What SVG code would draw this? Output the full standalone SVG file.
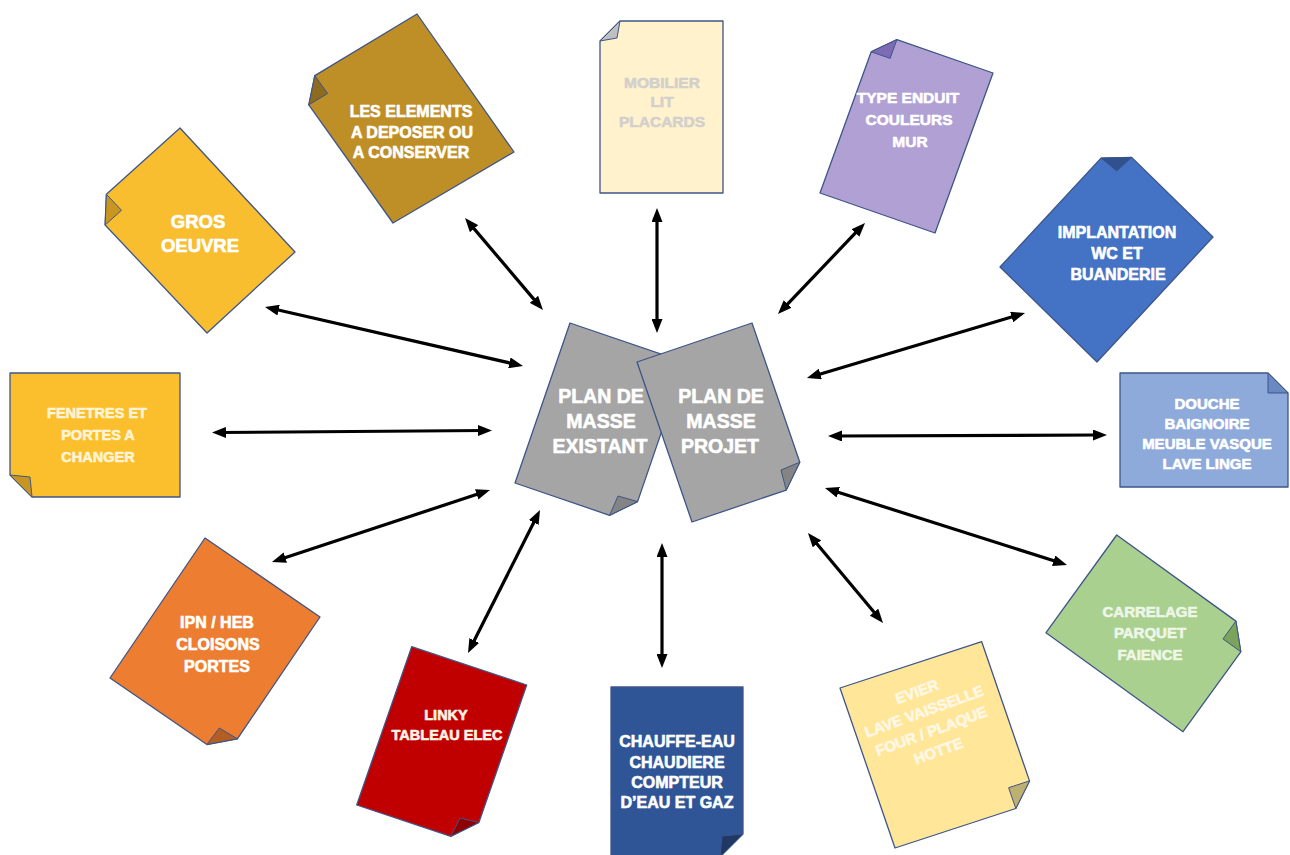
<svg xmlns="http://www.w3.org/2000/svg" width="1290" height="855" viewBox="0 0 1290 855">
<style>
.page{stroke:#3E5588;stroke-width:1.3;stroke-linejoin:round}
.fold{stroke:#3E5588;stroke-width:1;stroke-linejoin:round}
.t{font-family:"Liberation Sans",Arial,sans-serif;font-weight:700;text-anchor:middle;fill:#FFFFFF;stroke:#FFFFFF;stroke-width:0.6;stroke-linejoin:round}
.conn line{stroke:#000;stroke-width:3.2;marker-start:url(#ah);marker-end:url(#ah)}
</style>
<defs>
<marker id="ah" viewBox="0 0 14 11" refX="6" refY="5.5" markerWidth="14" markerHeight="11" markerUnits="userSpaceOnUse" orient="auto-start-reverse">
<path d="M0,0 L14,5.5 L0,11 Z" fill="#000"/>
</marker>
</defs>
<rect width="1290" height="855" fill="#FFFFFF"/>

<g id="connectors" class="conn">
<line x1="272.8" y1="308.8" x2="515.2" y2="364.2"/>
<line x1="470.2" y1="224.1" x2="537.8" y2="303.9"/>
<line x1="657" y1="216" x2="657" y2="325"/>
<line x1="859.5" y1="228.7" x2="783.5" y2="308.3"/>
<line x1="1017.4" y1="315.3" x2="814.6" y2="375.7"/>
<line x1="836" y1="436" x2="1099" y2="435"/>
<line x1="832.6" y1="490.4" x2="1059.4" y2="562.6"/>
<line x1="813.1" y1="539.2" x2="877.9" y2="616.8"/>
<line x1="662" y1="551" x2="662" y2="660"/>
<line x1="536.4" y1="517.2" x2="471.6" y2="645.8"/>
<line x1="482.4" y1="492.5" x2="279.6" y2="559.5"/>
<line x1="484" y1="430.5" x2="220" y2="432.5"/>
</g>

<g id="gros-oeuvre">
<path class="page" fill="#F9BD30" d="M180,128 L295,252 L207,333 L105.1,225 L106.4,194.3 Z"/>
<path class="fold" fill="#C9961F" d="M105.1,225 L106.4,194.3 L121.5,210.3 Z"/>
<text class="t" font-size="18.5"><tspan x="198" y="228">GROS</tspan><tspan x="200" y="252">OEUVRE</tspan></text>
</g>

<g id="les-elements">
<path class="page" fill="#BF8F27" d="M417,14 L514,152 L393,223 L308.8,104.9 L314.8,75.6 Z"/>
<path class="fold" fill="#8C6A1E" d="M308.8,104.9 L314.8,75.6 L327.6,93.5 Z"/>
<text class="t" font-size="16"><tspan x="411" y="117">LES ELEMENTS</tspan><tspan x="412" y="138">A DEPOSER OU</tspan><tspan x="411" y="158">A CONSERVER</tspan></text>
</g>

<g id="mobilier">
<path class="page" fill="#FFF2CC" stroke="#8497B0" d="M620,21 L723,21 L723,193 L600,193 L600,41 Z"/>
<path class="fold" fill="#BFBFBF" stroke="#8497B0" d="M600,41 L620,21 L617,38 Z"/>
<text class="t" font-size="15.5" style="fill:#D3D0CC;stroke:#D3D0CC"><tspan x="662" y="88">MOBILIER</tspan><tspan x="662" y="107">LIT</tspan><tspan x="662" y="127">PLACARDS</tspan></text>
</g>

<g id="type-enduit">
<path class="page" fill="#B1A0D4" d="M896.9,39.6 L993,73 L935,233 L820,193 L871.2,51.8 Z"/>
<path class="fold" fill="#7E6BB5" d="M896.9,39.6 L871.2,51.8 L890.1,58.4 Z"/>
<text class="t" font-size="15.5"><tspan x="908" y="103">TYPE ENDUIT</tspan><tspan x="909" y="125">COULEURS</tspan><tspan x="910" y="147">MUR</tspan></text>
</g>

<g id="implantation">
<path class="page" fill="#4472C4" stroke="#2F528F" d="M1131.7,157.4 L1213,237 L1097,362 L1000,267 L1101,158.1 Z"/>
<path class="fold" fill="#2F528F" stroke="#2F528F" d="M1131.7,157.4 L1101,158.1 L1116.7,171 Z"/>
<text class="t" font-size="16"><tspan x="1117" y="238">IMPLANTATION</tspan><tspan x="1117" y="259">WC ET</tspan><tspan x="1118" y="280">BUANDERIE</tspan></text>
</g>

<g id="douche">
<path class="page" fill="#8EAADB" d="M1120,373 L1268,373 L1288,393 L1288,487 L1120,487 Z"/>
<path class="fold" fill="#6A88C2" d="M1268,373 L1288,393 L1268,393 Z"/>
<text class="t" font-size="15"><tspan x="1207" y="409">DOUCHE</tspan><tspan x="1207" y="429">BAIGNOIRE</tspan><tspan x="1207" y="449">MEUBLE VASQUE</tspan><tspan x="1207" y="469">LAVE LINGE</tspan></text>
</g>

<g id="carrelage">
<path class="page" fill="#A9D08E" d="M1116.7,535 L1235.9,621.1 L1240.8,651.8 L1183,731.7 L1046,632.7 Z"/>
<path class="fold" fill="#7BA35C" d="M1235.9,621.1 L1240.8,651.8 L1223,638.9 Z"/>
<text class="t" font-size="15" style="fill:#EEF6E8;stroke:#EEF6E8"><tspan x="1150" y="617">CARRELAGE</tspan><tspan x="1150" y="638">PARQUET</tspan><tspan x="1150" y="660">FAIENCE</tspan></text>
</g>

<g id="evier">
<path class="page" fill="#FFE699" d="M840,688 L981.7,641.7 L1029.5,780.9 L1015.8,808.5 L895,848 Z"/>
<path class="fold" fill="#BDB071" d="M1029.5,780.9 L1015.8,808.5 L1008.6,787.7 Z"/>
<g transform="translate(927.5,721) rotate(-20)">
<text class="t" font-size="15" style="fill:#FFF8E4;stroke:#FFF8E4"><tspan x="0" y="-26">EVIER</tspan><tspan x="0" y="-5">LAVE VAISSELLE</tspan><tspan x="0" y="16">FOUR / PLAQUE</tspan><tspan x="0" y="37">HOTTE</tspan></text>
</g>
</g>

<g id="chauffe-eau">
<path class="page" fill="#2F5597" d="M611,687 L743,687 L743,834 L720,857 L611,857 Z"/>
<path class="fold" fill="#203864" d="M743,834 L720,857 L722,836 Z"/>
<text class="t" font-size="16"><tspan x="677" y="747">CHAUFFE-EAU</tspan><tspan x="677" y="768">CHAUDIERE</tspan><tspan x="677" y="788">COMPTEUR</tspan><tspan x="677" y="808">D’EAU ET GAZ</tspan></text>
</g>

<g id="linky">
<path class="page" fill="#C00000" stroke="#6B2A2A" d="M411.7,646.7 L526.7,685 L478.9,822.5 L450.8,836.3 L356.7,805 Z"/>
<path class="fold" fill="#8E0000" stroke="#6B2A2A" d="M478.9,822.5 L450.8,836.3 L460,818 Z"/>
<text class="t" font-size="14.5" style="fill:#FFF3E6;stroke:#FFF3E6"><tspan x="446" y="720">LINKY</tspan><tspan x="447" y="740">TABLEAU ELEC</tspan></text>
</g>

<g id="ipn-heb">
<path class="page" fill="#ED7D31" d="M205,538 L320,617 L237.4,738.8 L206.9,744.5 L110,678 Z"/>
<path class="fold" fill="#B45E24" d="M237.4,738.8 L206.9,744.5 L219.3,728 Z"/>
<text class="t" font-size="16"><tspan x="217" y="628">IPN / HEB</tspan><tspan x="218" y="650">CLOISONS</tspan><tspan x="217" y="672">PORTES</tspan></text>
</g>

<g id="fenetres">
<path class="page" fill="#FBBF2E" d="M10,373 L180,373 L180,497 L32,497 L10,475 Z"/>
<path class="fold" fill="#C8961F" d="M10,475 L32,497 L30,477 Z"/>
<text class="t" font-size="14.5" style="fill:#FFF4D6;stroke:#FFF4D6"><tspan x="97" y="418">FENETRES ET</tspan><tspan x="98" y="440">PORTES A</tspan><tspan x="98" y="462">CHANGER</tspan></text>
</g>

<g id="plan-existant">
<path class="page" fill="#A5A5A5" d="M570,323 L685.4,362.4 L637.6,501.6 L609.6,515.3 L515,483 Z"/>
<path class="fold" fill="#848484" d="M637.6,501.6 L609.6,515.3 L618,496 Z"/>
</g>

<g id="plan-projet">
<path class="page" fill="#A5A5A5" d="M637,362 L752,323 L799.8,462.2 L786.2,490.1 L692,522 Z"/>
<path class="fold" fill="#848484" d="M799.8,462.2 L786.2,490.1 L781,470 Z"/>
<text class="t" font-size="19.5"><tspan x="721" y="403">PLAN DE</tspan><tspan x="721" y="428">MASSE</tspan><tspan x="720" y="453">PROJET</tspan></text>
</g>

<g id="plan-existant-label">
<text class="t" font-size="19.5"><tspan x="601" y="403">PLAN DE</tspan><tspan x="601" y="428">MASSE</tspan><tspan x="600" y="453">EXISTANT</tspan></text>
</g>
</svg>
